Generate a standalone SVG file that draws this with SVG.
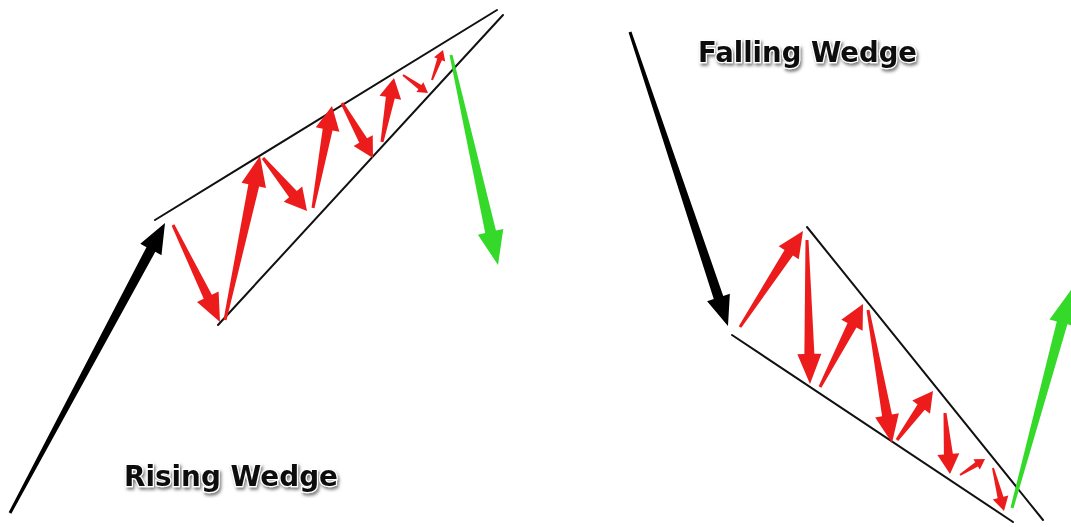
<svg xmlns="http://www.w3.org/2000/svg" width="1071" height="527" viewBox="0 0 1071 527">
<defs>
<filter id="sh" x="-10%" y="-30%" width="120%" height="170%">
<feDropShadow dx="1.5" dy="2.5" stdDeviation="1.6" flood-color="#555" flood-opacity="0.75"/>
</filter>
</defs>
<style>
.red{fill:#ec1c1c}
.grn{fill:#35d92a}
.blk{fill:#000}
.ln{stroke:#111;stroke-width:2;fill:none;stroke-linecap:round}
.lbl{font-family:"DejaVu Sans","Liberation Sans",sans-serif;font-weight:bold;font-size:29px;fill:#111;stroke:#fff;stroke-width:2.5;paint-order:stroke;filter:url(#sh)}
</style>
<rect width="1071" height="527" fill="#fff"/>
<g id="rising-wedge">
<g id="rising-lines">
<line class="ln" x1="155" y1="220" x2="497" y2="10"/>
<line class="ln" x1="218" y1="325" x2="503" y2="15"/>
</g>
<g id="rising-trend" class="blk" transform="translate(10,513) rotate(-61.87)"><path d="M0,-1.5 L298.8,-5 L298.8,-12 L328.8,0 L298.8,12 L298.8,5 L0,1.5Z"/></g>
<g id="rising-moves" class="red">
<path transform="translate(173,225) rotate(64.15)" d="M0,-1.5 L79.8,-4.5 L79.8,-12 L107.8,0 L79.8,12 L79.8,4.5 L0,1.5Z"/>
<path transform="translate(225,320) rotate(-77.95)" d="M0,-1.5 L137.7,-5.5 L137.7,-12.5 L167.7,0 L137.7,12.5 L137.7,5.5 L0,1.5Z"/>
<path transform="translate(263,158) rotate(50.3)" d="M0,-1.5 L46.9,-5 L46.9,-12 L68.9,0 L46.9,12 L46.9,5 L0,1.5Z"/>
<path transform="translate(313,208) rotate(-79.45)" d="M0,-1.5 L79.8,-5 L79.8,-12 L103.8,0 L79.8,12 L79.8,5 L0,1.5Z"/>
<path transform="translate(342,103) rotate(60.59)" d="M0,-1.5 L43.1,-4.5 L43.1,-11 L63.1,0 L43.1,11 L43.1,4.5 L0,1.5Z"/>
<path transform="translate(382,142) rotate(-79.38)" d="M0,-1.5 L45.1,-4.5 L45.1,-11 L65.1,0 L45.1,11 L45.1,4.5 L0,1.5Z"/>
<path transform="translate(403,75) rotate(35.75)" d="M0,-1 L20.8,-2.5 L20.8,-6 L30.8,0 L20.8,6 L20.8,2.5 L0,1Z"/>
<path transform="translate(432,80) rotate(-69.86)" d="M0,-1 L22,-2.5 L22,-6 L32,0 L22,6 L22,2.5 L0,1Z"/>
</g>
<g id="rising-breakout" class="grn" transform="translate(451,55) rotate(77.38)"><path d="M0,-1.5 L181.2,-5.5 L181.2,-13 L215.2,0 L181.2,13 L181.2,5.5 L0,1.5Z"/></g>
<text id="rising-label" class="lbl" x="124" y="486" textLength="214" lengthAdjust="spacingAndGlyphs">Rising Wedge</text>
</g>
<g id="falling-wedge">
<g id="falling-lines">
<line class="ln" x1="807" y1="227" x2="1043" y2="520"/>
<line class="ln" x1="732" y1="335" x2="1013" y2="522"/>
</g>
<g id="falling-trend" class="blk" transform="translate(630,32) rotate(71.57)"><path d="M0,-1.5 L279.9,-5 L279.9,-12 L309.9,0 L279.9,12 L279.9,5 L0,1.5Z"/></g>
<g id="falling-moves" class="red">
<path transform="translate(740,327) rotate(-56.73)" d="M0,-1.5 L88.8,-5 L88.8,-12 L114.8,0 L88.8,12 L88.8,5 L0,1.5Z"/>
<path transform="translate(807,240) rotate(88.81)" d="M0,-1.5 L114,-5 L114,-12 L144,0 L114,12 L114,5 L0,1.5Z"/>
<path transform="translate(820,387) rotate(-62.61)" d="M0,-1.5 L69.5,-5 L69.5,-12 L93.5,0 L69.5,12 L69.5,5 L0,1.5Z"/>
<path transform="translate(868,310) rotate(79.77)" d="M0,-1.5 L107.1,-5 L107.1,-12 L135.1,0 L107.1,12 L107.1,5 L0,1.5Z"/>
<path transform="translate(897,440) rotate(-53.7)" d="M0,-1.5 L40.8,-4.5 L40.8,-11 L60.8,0 L40.8,11 L40.8,4.5 L0,1.5Z"/>
<path transform="translate(945,413) rotate(85.31)" d="M0,-1.5 L41.2,-4.5 L41.2,-11 L61.2,0 L41.2,11 L41.2,4.5 L0,1.5Z"/>
<path transform="translate(960,475) rotate(-32.62)" d="M0,-1 L19.7,-2.5 L19.7,-6 L29.7,0 L19.7,6 L19.7,2.5 L0,1Z"/>
<path transform="translate(993,468) rotate(75.65)" d="M0,-1 L30.4,-3 L30.4,-8 L44.4,0 L30.4,8 L30.4,3 L0,1Z"/>
</g>
<g id="falling-breakout" class="grn" transform="translate(1012,508) rotate(-74.86)"><path d="M0,-1.5 L191.8,-5.5 L191.8,-13 L225.8,0 L191.8,13 L191.8,5.5 L0,1.5Z"/></g>
<text id="falling-label" class="lbl" x="698" y="62" textLength="219" lengthAdjust="spacingAndGlyphs">Falling Wedge</text>
</g>
</svg>
